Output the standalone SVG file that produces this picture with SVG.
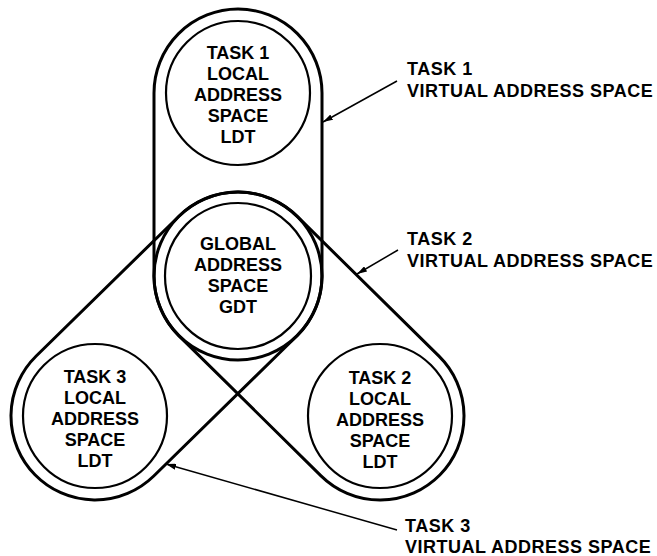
<svg xmlns="http://www.w3.org/2000/svg" width="657" height="556" viewBox="0 0 657 556">
<defs>
<marker id="ah" viewBox="0 0 10 6" refX="10" refY="3" markerWidth="10" markerHeight="6" markerUnits="userSpaceOnUse" orient="auto">
<path d="M0,0 L10,3 L0,6 z" fill="#000"/>
</marker>
<style>
.loop{fill:none;stroke:#000;stroke-width:3}
.ring{fill:none;stroke:#000;stroke-width:2.2}
.t{font-family:"Liberation Sans",Arial,sans-serif;font-weight:bold;font-size:18px;fill:#000;text-anchor:middle}
.lbl{font-family:"Liberation Sans",Arial,sans-serif;font-weight:bold;font-size:18px;letter-spacing:0.5px;fill:#000}
.arr{stroke:#000;stroke-width:1.5;fill:none;marker-end:url(#ah)}
</style>
</defs>
<rect width="657" height="556" fill="#fff"/>
<g id="loops">
<path id="task1-space" class="loop" d="M154 93 A84 84 0 0 1 322 93 L322 276 A84 84 0 0 1 154 276 Z"/>
<path id="task2-space" class="loop" d="M296.98 216.18 L438.98 356.18 A84 84 0 0 1 321.02 475.82 L179.02 335.82 A84 84 0 0 1 296.98 216.18 Z"/>
<path id="task3-space" class="loop" d="M179.23 215.97 A84 84 0 0 1 296.77 336.03 L153.77 476.03 A84 84 0 0 1 36.23 355.97 Z"/>
</g>
<g id="task1-ldt">
<circle class="ring" cx="238" cy="93" r="72"/>
<text class="t" x="238" y="59">TASK 1</text>
<text class="t" x="238" y="80">LOCAL</text>
<text class="t" x="238" y="101">ADDRESS</text>
<text class="t" x="238" y="122">SPACE</text>
<text class="t" x="238" y="143">LDT</text>
</g>
<g id="global-gdt">
<circle class="ring" cx="238" cy="276" r="73"/>
<text class="t" x="238" y="250">GLOBAL</text>
<text class="t" x="238" y="271">ADDRESS</text>
<text class="t" x="238" y="292">SPACE</text>
<text class="t" x="238" y="313">GDT</text>
</g>
<g id="task3-ldt">
<circle class="ring" cx="95" cy="416" r="72"/>
<text class="t" x="95" y="383">TASK 3</text>
<text class="t" x="95" y="404">LOCAL</text>
<text class="t" x="95" y="425">ADDRESS</text>
<text class="t" x="95" y="446">SPACE</text>
<text class="t" x="95" y="467">LDT</text>
</g>
<g id="task2-ldt">
<circle class="ring" cx="380" cy="416" r="72"/>
<text class="t" x="380" y="384">TASK 2</text>
<text class="t" x="380" y="405">LOCAL</text>
<text class="t" x="380" y="426">ADDRESS</text>
<text class="t" x="380" y="447">SPACE</text>
<text class="t" x="380" y="468">LDT</text>
</g>
<g id="connectors">
<line class="arr" x1="397" y1="81" x2="323" y2="122"/>
<line class="arr" x1="398" y1="250" x2="357" y2="274"/>
<line class="arr" x1="397" y1="530" x2="166" y2="464"/>
</g>
<g id="label-task1">
<text class="lbl" x="407" y="75">TASK 1</text>
<text class="lbl" x="407" y="97">VIRTUAL ADDRESS SPACE</text>
</g>
<g id="label-task2">
<text class="lbl" x="407" y="245">TASK 2</text>
<text class="lbl" x="407" y="267">VIRTUAL ADDRESS SPACE</text>
</g>
<g id="label-task3">
<text class="lbl" x="405" y="532">TASK 3</text>
<text class="lbl" x="405" y="553">VIRTUAL ADDRESS SPACE</text>
</g>
</svg>
